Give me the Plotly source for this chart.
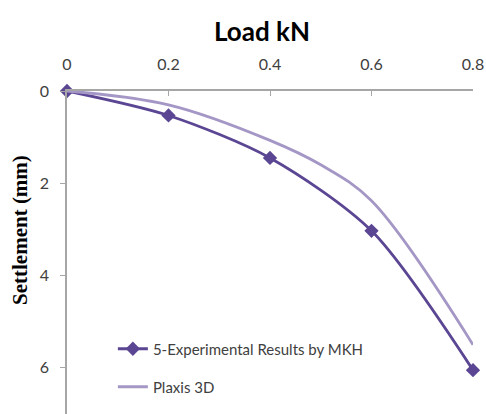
import plotly.graph_objects as go

load_exp = [0, 0.2, 0.4, 0.6, 0.8]
settle_exp = [0, 0.53, 1.45, 3.03, 6.05]

load_plaxis = [0, 0.2, 0.4, 0.5, 0.6, 0.8]
settle_plaxis = [0, 0.3, 1.07, 1.6, 2.38, 5.5]

x_ticks = [0, 0.2, 0.4, 0.6, 0.8]
y_ticks = [0, 2, 4, 6]

dark = "#5B4693"
light = "#A497C6"
axis_col = "#A6A6A6"
txt = "#404040"

fig = go.Figure()
fig.add_trace(go.Scatter(
    x=load_exp, y=settle_exp, mode="lines+markers",
    name="5-Experimental Results by MKH",
    line=dict(color=dark, width=2.8, shape="spline", smoothing=0.8),
    marker=dict(symbol="diamond", size=11, color=dark),
    cliponaxis=False, legend="legend",
))
fig.add_trace(go.Scatter(
    x=load_plaxis, y=settle_plaxis, mode="lines",
    name="Plaxis 3D",
    line=dict(color=light, width=2.8, shape="spline", smoothing=1.0),
    cliponaxis=False, legend="legend2",
))

def py(px):
    return (414 - px) / (414 - 91)

def pxx(px):
    return (px - 67) / 406

fig.update_layout(
    width=486, height=414,
    margin=dict(l=67, r=13, t=91, b=0),
    paper_bgcolor="white", plot_bgcolor="white",
    font=dict(family="Lato", size=15, color=txt),
    xaxis=dict(
        side="top", range=[0, 0.8], tickvals=x_ticks,
        showgrid=False, zeroline=False, showline=True,
        linecolor=axis_col, linewidth=1.5,
        ticks="inside", ticklen=5, tickcolor=axis_col,
        tickfont=dict(family="Lato", size=16, color=txt),
        ticklabelstandoff=13,
    ),
    yaxis=dict(
        range=[7, 0], tickvals=y_ticks,
        showgrid=False, zeroline=False, showline=True,
        linecolor=axis_col, linewidth=1.5,
        ticks="outside", ticklen=5, tickcolor=axis_col,
        tickfont=dict(family="Lato", size=16, color=txt),
        ticklabelstandoff=8,
    ),
    legend=dict(x=0.113, y=py(349), xanchor="left", yanchor="middle",
                bgcolor="rgba(0,0,0,0)", font=dict(family="Lato", size=15, color=txt)),
    legend2=dict(x=0.113, y=py(387), xanchor="left", yanchor="middle",
                 bgcolor="rgba(0,0,0,0)", font=dict(family="Lato", size=15, color=txt)),
    showlegend=True,
)

fig.add_annotation(
    text="<b>Load kN</b>", xref="paper", yref="paper",
    x=pxx(262), y=py(31), xanchor="center", yanchor="middle",
    showarrow=False, font=dict(family="Lato", size=26, color="black"),
)
fig.add_annotation(
    text="<b>Settlement (mm)</b>", xref="paper", yref="paper",
    x=pxx(20), y=py(230), xanchor="center", yanchor="middle", textangle=-90,
    showarrow=False, font=dict(family="Liberation Serif", size=21, color="black"),
)

fig.write_html("out.html")
